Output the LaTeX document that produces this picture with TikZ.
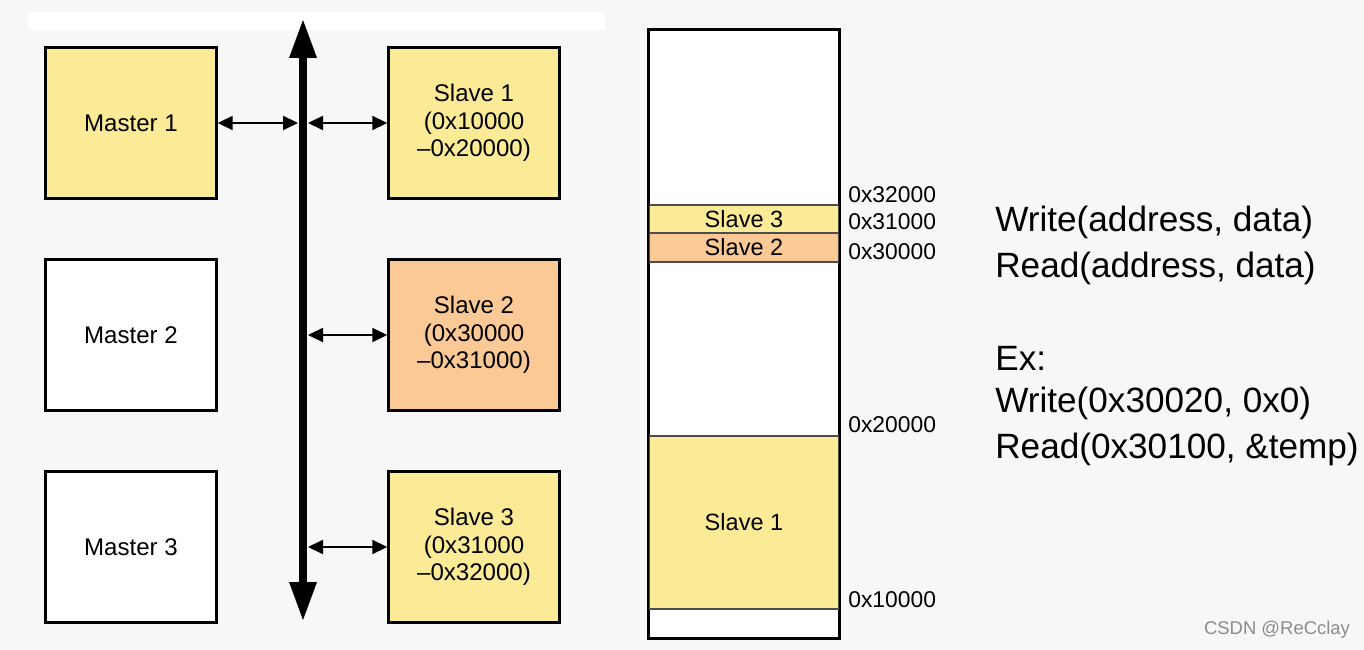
\documentclass[tikz,border=0pt]{standalone}
\usepackage{fontspec}
\setmainfont{Liberation Sans}
\usetikzlibrary{arrows.meta}
\definecolor{bgray}{HTML}{F7F7F7}
\definecolor{slaveyel}{HTML}{FBEB97}
\definecolor{slaveorg}{HTML}{FAC995}
\tikzstyle{master} = [rectangle, minimum width=3.42cm, minimum height=3.02cm, text centered, draw=black, line width=1.4pt, fill=white, font=\fontsize{13.7}{15.6}\selectfont]
\tikzstyle{slave} = [rectangle, minimum width=3.42cm, minimum height=3.02cm, align=center, draw=black, line width=1.4pt, fill=slaveyel, font=\fontsize{13.7}{15.6}\selectfont]
\tikzstyle{band} = [rectangle, minimum width=3.8cm, inner sep=0pt, draw=black!70, line width=0.8pt, fill=slaveyel, font=\fontsize{13.4}{15}\selectfont]
\tikzstyle{addr} = [anchor=west, inner sep=0pt, font=\fontsize{13}{15}\selectfont]
\tikzstyle{call} = [anchor=west, inner sep=0pt, font=\fontsize{20}{24}\selectfont]
\tikzstyle{arrow} = [line width=1.2pt, {Triangle[length=0.3cm,width=0.28cm]}-{Triangle[length=0.3cm,width=0.28cm]}]
\tikzstyle{bus} = [line width=5pt, {Triangle[length=0.8cm,width=0.5cm]}-{Triangle[length=0.8cm,width=0.5cm]}]

\begin{document}
\begin{tikzpicture}[node distance=4.24cm]
        % background
        \fill[bgray] (0,0) rectangle (27.28,-13);
        \fill[white] (0.56,-0.24) rectangle (12.1,-0.6);
        \useasboundingbox (0,0) rectangle (27.28,-13);

        % masters and slaves
        \node (master1) [master, fill=slaveyel] at (2.62,-2.46) {Master 1};
        \node (master2) [master, below of=master1] {Master 2};
        \node (master3) [master, below of=master2] {Master 3};
        \node (slave1) [slave, right of=master1, xshift=2.62cm] {Slave 1\\(0x10000\\--0x20000)};
        \node (slave2) [slave, fill=slaveorg, below of=slave1] {Slave 2\\(0x30000\\--0x31000)};
        \node (slave3) [slave, below of=slave2] {Slave 3\\(0x31000\\--0x32000)};

        % bus
        \coordinate (bustop) at (6.06,-0.36);
        \coordinate (busbot) at (6.06,-12.44);
        \draw [bus] (busbot) -- (bustop);

        \draw [arrow, shorten >=0.1cm] (master1) -- (master1 -| bustop);
        \draw [arrow, shorten >=0.1cm] (slave1) -- (slave1 -| bustop);
        \draw [arrow, shorten >=0.1cm] (slave2) -- (slave2 -| bustop);
        \draw [arrow, shorten >=0.1cm] (slave3) -- (slave3 -| bustop);

        % memory map
        \node (memmap) [rectangle, draw=black, line width=1.2pt, fill=white, minimum width=3.8cm, minimum height=12.16cm] at (14.88,-6.68) {};
        \node (mem3) [band, minimum height=0.56cm] at (14.88,-4.38) {Slave 3};
        \node (mem2) [band, minimum height=0.58cm, fill=slaveorg] at (14.88,-4.95) {Slave 2};
        \node (mem1) [band, minimum height=3.46cm] at (14.88,-10.45) {Slave 1};
        \draw [line width=1.2pt] (memmap.north west) rectangle (memmap.south east);

        \node (a32) [addr] at (16.96,-3.9) {0x32000};
        \node (a31) [addr] at (16.96,-4.44) {0x31000};
        \node (a30) [addr] at (16.96,-5.04) {0x30000};
        \node (a20) [addr] at (16.96,-8.5) {0x20000};
        \node (a10) [addr] at (16.96,-12.0) {0x10000};

        % access calls
        \node (wr) [call] at (19.9,-4.44) {Write(address, data)};
        \node (rd) [call] at (19.9,-5.36) {Read(address, data)};
        \node (ex) [call] at (19.9,-7.16) {Ex:};
        \node (exwr) [call] at (19.9,-8.06) {Write(0x30020, 0x0)};
        \node (exrd) [call] at (19.9,-8.98) {Read(0x30100, \&temp)};

        \node (mark) [text=black!45, font=\fontsize{10.5}{12}\selectfont] at (25.54,-12.6) {CSDN @ReCclay};
    \end{tikzpicture}
\end{document}
